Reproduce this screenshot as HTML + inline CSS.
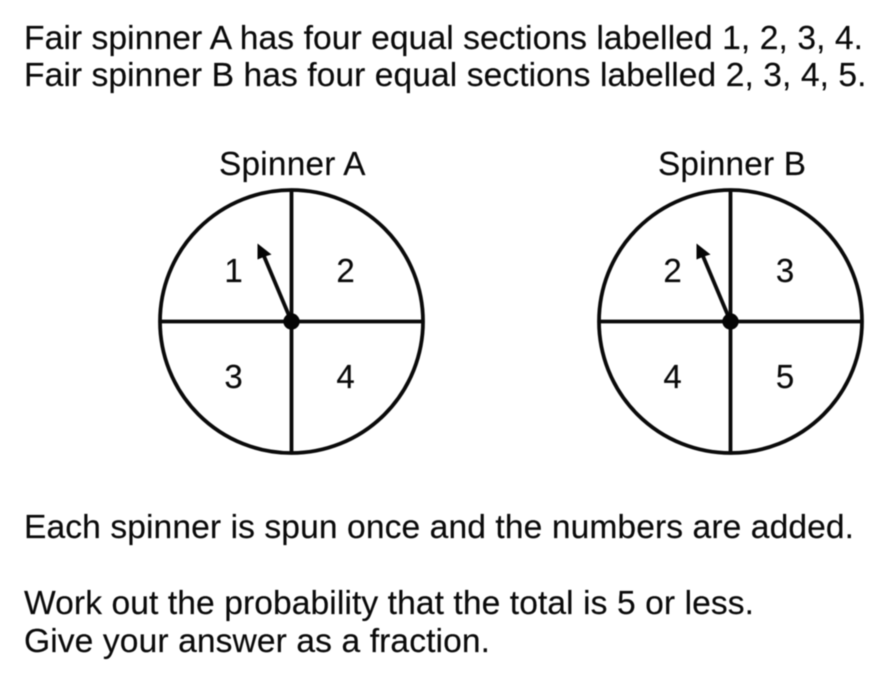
<!DOCTYPE html>
<html><head><meta charset="utf-8"><style>
html,body{margin:0;padding:0;background:#fff}
svg{display:block;filter:blur(.4px)}
text{font-family:"Liberation Sans",Arial,sans-serif;fill:#0a0a0a;stroke:#0a0a0a;stroke-width:.15px}
.t{font-size:33.6px}
.n{font-size:33px;text-anchor:middle}
.s{font-size:33.3px}
</style></head><body>
<svg width="878" height="680" viewBox="0 0 878 680" xmlns="http://www.w3.org/2000/svg">
<rect width="878" height="680" fill="#fff"/>
<text class="t" x="24" y="49" textLength="839" lengthAdjust="spacing">Fair spinner A has four equal sections labelled 1, 2, 3, 4.</text>
<text class="t" x="24" y="86" textLength="842.5" lengthAdjust="spacing">Fair spinner B has four equal sections labelled 2, 3, 4, 5.</text>
<text class="s" x="219" y="175" textLength="146.5" lengthAdjust="spacing">Spinner A</text>
<text class="s" x="658" y="175" textLength="148" lengthAdjust="spacing">Spinner B</text>
<g fill="none" stroke="#0a0a0a" stroke-width="3.8">
<circle cx="291.5" cy="321.5" r="131.5"/>
<path d="M291.5 190V453M160 321.5H423"/>
<circle cx="730.5" cy="321.5" r="131.5"/>
<path d="M730.5 190V453M599 321.5H862"/>
<path d="M291.5 321.5L263.5 255M730.5 321.5L702.5 255" stroke-width="3.8"/>
</g>
<g fill="#050505">
<circle cx="291.5" cy="321.5" r="8.2"/>
<circle cx="730.5" cy="321.5" r="8.2"/>
<path d="M257.5 243.5L271.5 254.5L265 256.5L257.5 259.5Z"/>
<path d="M696.5 243.5L710.5 254.5L704 256.5L696.5 259.5Z"/>
</g>
<g class="num">
<text class="n" x="233.5" y="282">1</text><text class="n" x="345.5" y="282">2</text>
<text class="n" x="233.5" y="388">3</text><text class="n" x="345.5" y="388">4</text>
<text class="n" x="672.5" y="282">2</text><text class="n" x="785" y="282">3</text>
<text class="n" x="672.5" y="388">4</text><text class="n" x="785" y="388">5</text>
</g>
<text class="t" x="24" y="538" textLength="830" lengthAdjust="spacing">Each spinner is spun once and the numbers are added.</text>
<text class="t" x="24" y="614" textLength="730" lengthAdjust="spacing">Work out the probability that the total is 5 or less.</text>
<text class="t" x="24" y="652" textLength="466" lengthAdjust="spacing">Give your answer as a fraction.</text>
</svg>
</body></html>
